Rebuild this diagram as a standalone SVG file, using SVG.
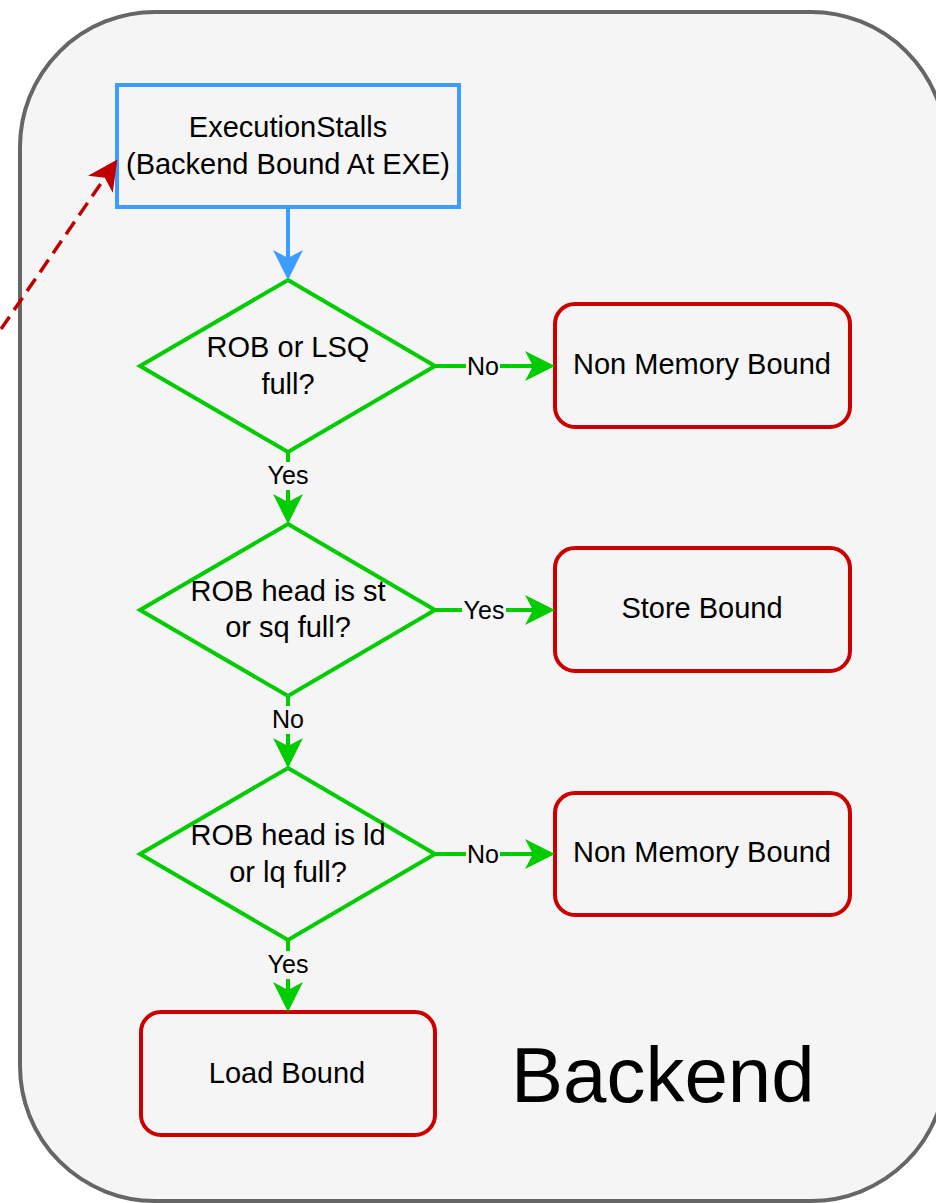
<svg xmlns="http://www.w3.org/2000/svg" width="936" height="1203" viewBox="0 0 936 1203">
  <style>
    text { font-family: "Liberation Sans", Arial, sans-serif; fill: #000000; text-anchor: middle; }
    .node { font-size: 29px; }
    .lbl { font-size: 25px; }
    .title { font-size: 78px; text-anchor: start; }
    .decision { fill: #f5f5f5; stroke: #00cc00; stroke-width: 4; stroke-linejoin: miter; }
    .result { fill: #f5f5f5; stroke: #cc0000; stroke-width: 4; }
    .flow { fill: none; stroke: #00cc00; stroke-width: 4; }
    .lblbg { fill: #f5f5f5; }
  </style>
  <defs>
    <marker id="arrowGreen" markerUnits="userSpaceOnUse" viewBox="0 0 30 30" markerWidth="30" markerHeight="30" refX="10" refY="15" orient="auto">
      <path d="M0,0 L30,15 L0,30 L8,15 Z" fill="#00cc00"/>
    </marker>
    <marker id="arrowBlue" markerUnits="userSpaceOnUse" viewBox="0 0 30 30" markerWidth="30" markerHeight="30" refX="10" refY="15" orient="auto">
      <path d="M0,0 L30,15 L0,30 L8,15 Z" fill="#3d9cff"/>
    </marker>
    <marker id="arrowRed" markerUnits="userSpaceOnUse" viewBox="0 0 30 30" markerWidth="30" markerHeight="30" refX="10" refY="15" orient="auto">
      <path d="M0,0 L30,15 L0,30 L8,15 Z" fill="#c00000"/>
    </marker>
  </defs>

  <!-- Backend container -->
  <g id="backend">
    <rect x="20" y="12" width="926" height="1189" rx="135" ry="135" fill="#f5f5f5" stroke="#666666" stroke-width="4"/>
    <text class="title" x="511" y="1102">Backend</text>
  </g>

  <!-- Entry node -->
  <g id="execution-stalls">
    <rect x="117" y="85" width="342" height="122" fill="#f5f5f5" stroke="#3d9cff" stroke-width="4"/>
    <text class="node" x="288" y="137">ExecutionStalls</text>
    <text class="node" x="288" y="174">(Backend Bound At EXE)</text>
  </g>

  <!-- Decisions -->
  <g id="rob-lsq-full">
    <polygon class="decision" points="288,280 435,366 288,452 140,366"/>
    <text class="node" x="288" y="357">ROB or LSQ</text>
    <text class="node" x="288" y="394">full?</text>
  </g>
  <g id="rob-head-st">
    <polygon class="decision" points="288,524 435,610 288,696 140,610"/>
    <text class="node" x="288" y="601">ROB head is st</text>
    <text class="node" x="288" y="637">or sq full?</text>
  </g>
  <g id="rob-head-ld">
    <polygon class="decision" points="288,768 435,854 288,940 140,854"/>
    <text class="node" x="288" y="845">ROB head is ld</text>
    <text class="node" x="288" y="882">or lq full?</text>
  </g>

  <!-- Results -->
  <g id="non-memory-bound-1">
    <rect class="result" x="555" y="304" width="295" height="123" rx="20" ry="20"/>
    <text class="node" x="702" y="374">Non Memory Bound</text>
  </g>
  <g id="store-bound">
    <rect class="result" x="555" y="548" width="295" height="123" rx="20" ry="20"/>
    <text class="node" x="702" y="618">Store Bound</text>
  </g>
  <g id="non-memory-bound-2">
    <rect class="result" x="555" y="793" width="295" height="122" rx="20" ry="20"/>
    <text class="node" x="702" y="862">Non Memory Bound</text>
  </g>
  <g id="load-bound">
    <rect class="result" x="141" y="1012" width="294" height="123" rx="20" ry="20"/>
    <text class="node" x="287" y="1083">Load Bound</text>
  </g>

  <!-- Connectors -->
  <g id="connectors">
    <path d="M288,207 L288,260" fill="none" stroke="#3d9cff" stroke-width="4" marker-end="url(#arrowBlue)"/>
    <path d="M-12,348 L106,176" fill="none" stroke="#c00000" stroke-width="3.5" stroke-dasharray="15 8" marker-end="url(#arrowRed)"/>

    <path class="flow" d="M435,366 L535,366" marker-end="url(#arrowGreen)"/>
    <path class="flow" d="M288,452 L288,504" marker-end="url(#arrowGreen)"/>
    <path class="flow" d="M435,610 L535,610" marker-end="url(#arrowGreen)"/>
    <path class="flow" d="M288,696 L288,748" marker-end="url(#arrowGreen)"/>
    <path class="flow" d="M435,854 L535,854" marker-end="url(#arrowGreen)"/>
    <path class="flow" d="M288,940 L288,992" marker-end="url(#arrowGreen)"/>

    <rect class="lblbg" x="466" y="352" width="34" height="28"/>
    <text class="lbl" x="483" y="375">No</text>
    <rect class="lblbg" x="266" y="462" width="44" height="28"/>
    <text class="lbl" x="288" y="484">Yes</text>
    <rect class="lblbg" x="462" y="596" width="44" height="28"/>
    <text class="lbl" x="484" y="619">Yes</text>
    <rect class="lblbg" x="271" y="706" width="34" height="28"/>
    <text class="lbl" x="288" y="728">No</text>
    <rect class="lblbg" x="466" y="840" width="34" height="28"/>
    <text class="lbl" x="483" y="863">No</text>
    <rect class="lblbg" x="266" y="951" width="44" height="28"/>
    <text class="lbl" x="288" y="973">Yes</text>
  </g>
</svg>
